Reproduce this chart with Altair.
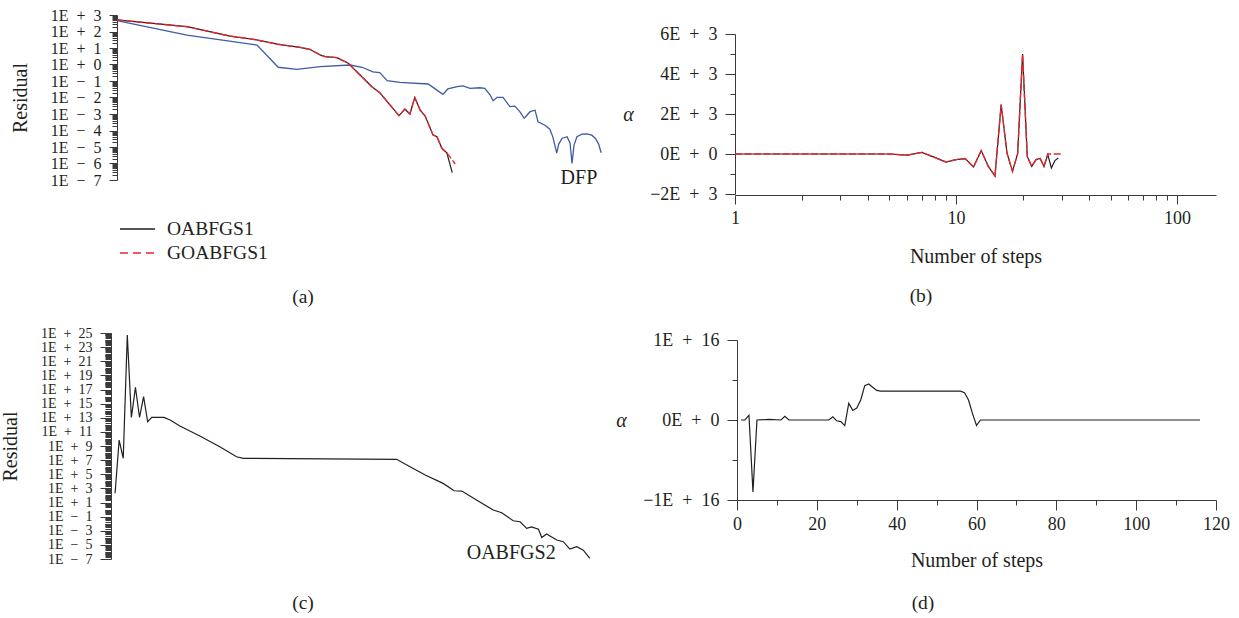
import altair as alt
import pandas as pd

FONT = "Liberation Serif"
INK = "#231f20"
AXIS_INK = "#3a3a3a"
BLACK = "#231f20"
RED = "#e8262d"
BLUE = "#3d5ba6"
MINUS = "\u2212"
SP = "\u2002"

# ---------------- (a) residual histories ----------------
a_oab_step = [0, 14.2, 22.9, 27.6, 32.5, 37.1, 39.1, 41.2, 42.2, 44.6, 46.9, 49.3, 51.7,
              53.3, 55.4, 57.2, 58.4, 59.4, 60.4, 61.5, 62.5, 64.1, 64.9, 65.9, 66.9, 68.0]
a_oab_res = [500, 195, 53, 34, 17, 11, 8.3, 3.8, 3.0, 2.6, 1.2, 0.23, 0.045,
             0.0195, 3.5e-3, 8e-4, 2e-3, 1e-3, 1.0e-2, 1.7e-3, 7.6e-4, 5.4e-5, 4.2e-5, 8.3e-6, 4.5e-6, 2.8e-7]
a_goab_step = [0, 14.2, 22.9, 27.6, 32.5, 37.1, 39.1, 41.2, 42.2, 44.6, 46.9, 49.3, 51.7,
               53.3, 55.4, 57.2, 58.4, 59.4, 60.4, 61.5, 62.5, 64.1, 64.9, 65.9, 66.9, 68.6]
a_goab_res = [500, 195, 53, 34, 17, 11, 8.3, 3.8, 3.0, 2.6, 1.2, 0.23, 0.045,
              0.0195, 3.5e-3, 8e-4, 2e-3, 1e-3, 1.0e-2, 1.7e-3, 7.6e-4, 5.4e-5, 4.2e-5, 8.3e-6, 4.5e-6, 9.3e-7]
a_dfp_step = [0, 14.2, 28.4, 32.7, 36.5, 41.2, 47.3, 49.7, 51.9, 53.3, 54.8, 57.4, 63.1, 64.9,
              66.1, 67.1, 69.0, 70.2, 71.6, 73.6, 74.6, 75.7, 76.3, 77.1, 78.3, 79.7, 80.7, 81.7,
              82.6, 83.8, 84.8, 85.4, 86.8, 87.8, 88.4, 89.2, 89.6, 90.3, 91.3, 91.9, 92.3, 92.7,
              93.3, 94.3, 95.3, 96.3, 97.0, 97.7, 98.2]
a_dfp_res = [450, 61, 15, 0.68, 0.51, 0.74, 0.93, 0.68, 0.36, 0.32, 0.105, 0.083, 0.066, 0.028,
             0.0155, 0.033, 0.045, 0.050, 0.036, 0.039, 0.036, 0.014, 6.4e-3, 0.0103, 0.0103, 2.8e-3, 3.0e-3, 1.38e-3,
             5.5e-4, 1.38e-3, 1.7e-3, 3.4e-4, 2.1e-4, 1.2e-4, 4.1e-5, 4.2e-6, 1.5e-5, 3.4e-5, 4.2e-5, 1.7e-5, 1.0e-6, 1.3e-5,
             4.2e-5, 6.0e-5, 6.2e-5, 5.2e-5, 3.4e-5, 1.5e-5, 4.5e-6]
a_legend_names = ["OABFGS1", "GOABFGS1"]
a_curve_name = ["DFP"]
a_curve_name_step = [93.7]
a_curve_name_res = [1.3e-7]

# ---------------- (b) step length, log steps ----------------
b_oab_step = list(range(1, 30))
b_oab_alpha = [0, 0, 0, 0, 0, -60, 80, -170, -400, -280, -230, -650, 170, -620, -1100, 2470,
               50, -870, 20, 5000, -120, -620, -280, -220, -620, -30, -700, -330, -200]
b_goab_step = list(range(1, 31))
b_goab_alpha = [0, 0, 0, 0, 0, -60, 80, -170, -400, -280, -230, -650, 170, -620, -1100, 2470,
                50, -870, 20, 5000, -120, -620, -280, -220, -620, 0, 0, 0, 0, 0]

# ---------------- (c) residual of OABFGS2 ----------------
c_step = [1, 2, 3, 4, 5, 6, 7, 8, 9, 10, 13, 14.5, 16.9, 21.8, 26.7, 30.8, 32.5, 70.1, 72.6,
          77.1, 81.5, 84.2, 86.1, 89.7, 93.8, 95.9, 98.7, 100.4, 102, 103.2, 104.9, 105.7,
          106.9, 109.4, 111, 112.6, 114.3, 115.9, 117.5]
c_res = [2.0e2, 6.9e9, 1.8e7, 5e24, 1.1e13, 2e17, 1.1e13, 9.5e15, 2.7e12, 1.1e13, 1.1e13,
         4.8e12, 6.7e11, 2.6e10, 7.9e8, 3.0e7, 1.8e7, 1.3e7, 2e6, 7.7e4, 5.1e3, 4.6e2, 4.2e2,
         22, 0.85, 0.35, 0.026, 0.019, 2.2e-3, 3.6e-3, 1.6e-3, 1.1e-4, 3.4e-4, 4.8e-5, 2.8e-5,
         2.5e-6, 5.4e-6, 1.8e-6, 1.2e-7]
c_curve_name = ["OABFGS2"]
c_curve_name_step = [98.2]
c_curve_name_res = [6.9e-7]

# ---------------- (d) step length of OABFGS2 ----------------
d_step = [1, 2, 3, 4, 5, 8, 11, 12, 13, 23, 24, 25, 26, 27, 28, 29, 30, 31, 32, 33, 34, 35,
          36, 56, 57, 58, 59, 60, 61, 116]
d_alpha = [0, 0, 6e14, -9e15, 0, 8e13, 0, 4.6e14, 0, 0, 4e14, -1e14, -2e14, -7e14, 2.1e15,
           1.2e15, 1.5e15, 2.5e15, 4.3e15, 4.5e15, 4.1e15, 3.7e15, 3.6e15, 3.6e15, 3.4e15,
           2.5e15, 8e14, -6.7e14, 0, 0]

captions = ["(a)", "(b)", "(c)", "(d)"]

# ---------------- layout (pixel ranges of each panel) ----------------
W, H = 1239, 618
A_X, A_Y = [117, 610], [180, 15]
B_X, B_Y = [735, 1216], [194, 34]
C_X, C_Y = [111, 600], [559, 333]
D_X, D_Y = [737, 1216], [500, 340]


def log_tick_values(lo, hi):
    vals = []
    for k in range(lo, hi):
        for m in range(1, 10):
            vals.append(m * 10.0 ** k)
    vals.append(10.0 ** hi)
    return vals


EXP = "round(log(datum.value)/LN10)"
DECADE = f"abs(log(datum.value)/LN10 - {EXP}) < 1e-6"
ODD_DECADE = f"{DECADE} && abs({EXP}) % 2 == 1"
SCI = f"'1E{SP}' + ({EXP} < 0 ? '{MINUS}' : '+') + '{SP}' + abs({EXP})"

common_axis = dict(grid=False, labelOverlap=False, labelFlush=False, domainColor=AXIS_INK,
                   tickColor=AXIS_INK, labelColor=INK, titleColor=INK,
                   labelFont=FONT, titleFont=FONT, titleFontSize=20,
                   titleFontWeight="normal")

# ---- (a) ----
ax_a_y = alt.Axis(orient="left", offset=-A_X[0], values=log_tick_values(-7, 3),
                  labelExpr=f"{DECADE} ? {SCI} : ''", labelFontSize=16,
                  tickSize={"condition": {"test": DECADE, "value": 8}, "value": 5},
                  labelPadding=8, title="Residual", titleX=20 - A_X[0], titleY=97.5,
                  titleAngle=-90, titleAlign="center", titleBaseline="middle", **common_axis)
xa = alt.X("step:Q", scale=alt.Scale(domain=[0, 100], range=A_X, nice=False, zero=False), axis=None)
ya = alt.Y("res:Q", scale=alt.Scale(type="log", domain=[1e-7, 1e3], range=A_Y, nice=False), axis=ax_a_y)

a_dfp = alt.Chart(pd.DataFrame({"step": a_dfp_step, "res": a_dfp_res})).mark_line(
    color=BLUE, strokeWidth=1.3).encode(x=xa, y=ya)
a_oab = alt.Chart(pd.DataFrame({"step": a_oab_step, "res": a_oab_res})).mark_line(
    color=BLACK, strokeWidth=1.2).encode(x=xa, y=ya)
a_goab = alt.Chart(pd.DataFrame({"step": a_goab_step, "res": a_goab_res})).mark_line(
    color=RED, strokeWidth=1.4, strokeDash=[7, 2.5]).encode(x=xa, y=ya)
a_name = alt.Chart(pd.DataFrame({"step": a_curve_name_step, "res": a_curve_name_res,
                                 "name": a_curve_name})).mark_text(
    font=FONT, fontSize=20, color=INK, align="center", baseline="middle").encode(x=xa, y=ya, text="name:N")
panel_a = alt.layer(a_dfp, a_oab, a_goab, a_name)

# ---- (b) ----
B_MAJOR_X = "datum.value == 1 || datum.value == 10 || datum.value == 100"
ax_b_x = alt.Axis(orient="bottom", offset=B_Y[0] + 1 - H,
                  values=list(range(1, 10)) + list(range(10, 101, 10)),
                  labelExpr=f"{B_MAJOR_X} ? '' + datum.value : ''", labelFontSize=18,
                  tickSize={"condition": {"test": B_MAJOR_X, "value": 9}, "value": 5},
                  labelPadding=5, title="Number of steps", titleX=(B_X[0] + B_X[1]) / 2, titleY=67,
                  titleAlign="center", titleBaseline="alphabetic", **common_axis)
B_MAJOR_Y = "datum.value % 2000 == 0"
ax_b_y = alt.Axis(orient="left", offset=-B_X[0], values=list(range(-2000, 6001, 1000)),
                  labelExpr=(f"{B_MAJOR_Y} ? (datum.value == 0 ? '0E{SP}+{SP}0' : "
                             f"(datum.value < 0 ? '{MINUS}' : '') + abs(datum.value)/1000 + 'E{SP}+{SP}3') : ''"),
                  labelFontSize=18,
                  tickSize={"condition": {"test": B_MAJOR_Y, "value": 10}, "value": 5},
                  labelPadding=8, title="α", titleX=628 - B_X[0], titleY=(B_Y[0] + B_Y[1]) / 2,
                  titleAngle=0, titleAlign="center", titleBaseline="middle", titleFontStyle="italic",
                  **common_axis)
xb = alt.X("step:Q", scale=alt.Scale(type="log", domain=[1, 150], range=B_X, nice=False), axis=ax_b_x)
yb = alt.Y("alpha:Q", scale=alt.Scale(domain=[-2000, 6000], range=B_Y, nice=False, zero=False), axis=ax_b_y)
b_oab = alt.Chart(pd.DataFrame({"step": b_oab_step, "alpha": b_oab_alpha})).mark_line(
    color=BLACK, strokeWidth=1.2).encode(x=xb, y=yb)
b_goab = alt.Chart(pd.DataFrame({"step": b_goab_step, "alpha": b_goab_alpha})).mark_line(
    color=RED, strokeWidth=1.4, strokeDash=[7, 2.5]).encode(x=xb, y=yb)
panel_b = alt.layer(b_oab, b_goab)

# ---- (c) ----
ax_c_y = alt.Axis(orient="left", offset=-C_X[0], values=log_tick_values(-7, 25),
                  labelExpr=f"{ODD_DECADE} ? {SCI} : ''", labelFontSize=14,
                  tickSize={"condition": {"test": ODD_DECADE, "value": 11}, "value": 6},
                  labelPadding=8, title="Residual", titleX=10 - C_X[0], titleY=(C_Y[0] + C_Y[1]) / 2,
                  titleAngle=-90, titleAlign="center", titleBaseline="middle", **common_axis)
xc = alt.X("step:Q", scale=alt.Scale(domain=[0, 120], range=C_X, nice=False, zero=False), axis=None)
yc = alt.Y("res:Q", scale=alt.Scale(type="log", domain=[1e-7, 1e25], range=C_Y, nice=False), axis=ax_c_y)
c_line = alt.Chart(pd.DataFrame({"step": c_step, "res": c_res})).mark_line(
    color=BLACK, strokeWidth=1.2).encode(x=xc, y=yc)
c_name = alt.Chart(pd.DataFrame({"step": c_curve_name_step, "res": c_curve_name_res,
                                 "name": c_curve_name})).mark_text(
    font=FONT, fontSize=20, color=INK, align="center", baseline="middle").encode(x=xc, y=yc, text="name:N")
panel_c = alt.layer(c_line, c_name)

# ---- (d) ----
D_MAJOR_X = "datum.value % 20 == 0"
ax_d_x = alt.Axis(orient="bottom", offset=D_Y[0] - H, values=list(range(0, 121, 10)),
                  labelExpr=f"{D_MAJOR_X} ? '' + datum.value : ''", labelFontSize=18,
                  tickSize={"condition": {"test": D_MAJOR_X, "value": 10}, "value": 5},
                  labelPadding=5, title="Number of steps", titleX=(D_X[0] + D_X[1]) / 2, titleY=66,
                  titleAlign="center", titleBaseline="alphabetic", **common_axis)
D_MAJOR_Y = "datum.value % 1e16 == 0"
ax_d_y = alt.Axis(orient="left", offset=-D_X[0], values=[-1e16, -5e15, 0, 5e15, 1e16],
                  labelExpr=(f"{D_MAJOR_Y} ? (datum.value == 0 ? '0E{SP}+{SP}0' : "
                             f"(datum.value < 0 ? '{MINUS}' : '') + '1E{SP}+{SP}16') : ''"),
                  labelFontSize=18,
                  tickSize={"condition": {"test": D_MAJOR_Y, "value": 10}, "value": 5},
                  labelPadding=8, title="α", titleX=621 - D_X[0], titleY=(D_Y[0] + D_Y[1]) / 2,
                  titleAngle=0, titleAlign="center", titleBaseline="middle", titleFontStyle="italic",
                  **common_axis)
xd = alt.X("step:Q", scale=alt.Scale(domain=[0, 120], range=D_X, nice=False, zero=False), axis=ax_d_x)
yd = alt.Y("alpha:Q", scale=alt.Scale(domain=[-1e16, 1e16], range=D_Y, nice=False, zero=False), axis=ax_d_y)
panel_d = alt.Chart(pd.DataFrame({"step": d_step, "alpha": d_alpha})).mark_line(
    color=BLACK, strokeWidth=1.2).encode(x=xd, y=yd)

# ---- legend for (a) and sub-figure captions ----
one = pd.DataFrame({"k": [0]})
legend_layers = []
for name, color, dash, ly in zip(a_legend_names, [BLACK, RED], [[1, 0], [8, 5]], [229, 253]):
    legend_layers.append(alt.Chart(one).mark_rule(color=color, strokeWidth=1.4, strokeDash=dash).encode(
        x=alt.value(120), x2=alt.value(155), y=alt.value(ly)))
    legend_layers.append(alt.Chart(one).mark_text(
        font=FONT, fontSize=19.5, color=INK, align="left", baseline="middle").encode(
        x=alt.value(167), y=alt.value(ly), text=alt.value(name)))

caption_layers = []
for cap, cx, cy in zip(captions, [303, 921, 303, 923], [297, 296, 603, 603]):
    caption_layers.append(alt.Chart(one).mark_text(
        font=FONT, fontSize=19.5, color=INK, align="center", baseline="middle").encode(
        x=alt.value(cx), y=alt.value(cy), text=alt.value(cap)))

chart = alt.layer(panel_a, panel_b, panel_c, panel_d, *legend_layers, *caption_layers).resolve_scale(
    x="independent", y="independent"
).properties(
    width=W, height=H, autosize=alt.AutoSizeParams(type="none"), padding=0
).configure_view(stroke=None)

chart.save("out.html", embed_options={"renderer": "svg", "actions": False})
